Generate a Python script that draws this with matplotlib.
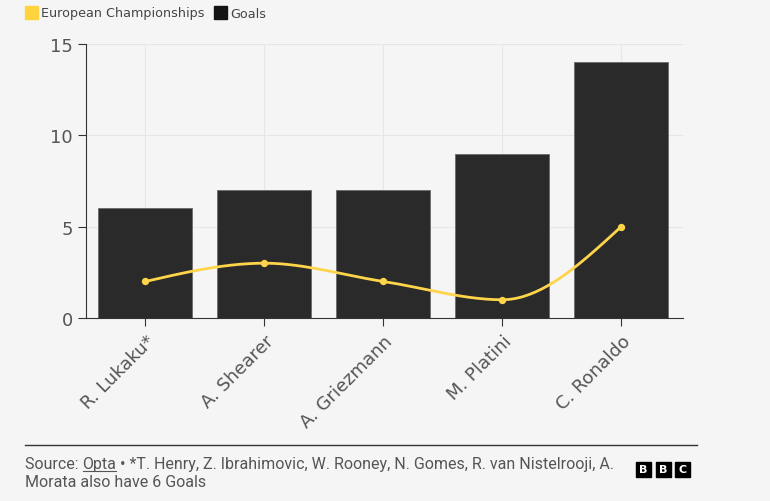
import numpy as np
import matplotlib
matplotlib.use("Agg")
import matplotlib.pyplot as plt
from matplotlib.patches import Rectangle

# data
players = ["R. Lukaku*", "A. Shearer", "A. Griezmann", "M. Platini", "C. Ronaldo"]
goals = [6, 7, 7, 9, 14]
championships = [2, 3, 2, 1, 5]
y_ticks = [0, 5, 10, 15]

BG = "#f5f5f5"
BAR = "#2a2a2a"
LINE = "#fdd44a"
TXT = "#555555"


def monotone_curve(x, y, n=40):
    # monotone cubic (Fritsch-Carlson), like d3 curveMonotoneX
    x = np.asarray(x, float)
    y = np.asarray(y, float)
    h = np.diff(x)
    d = np.diff(y) / h
    m = np.zeros_like(y)
    for i in range(1, len(y) - 1):
        if d[i - 1] * d[i] <= 0:
            m[i] = 0
        else:
            w1 = 2 * h[i] + h[i - 1]
            w2 = h[i] + 2 * h[i - 1]
            m[i] = (w1 + w2) / (w1 / d[i - 1] + w2 / d[i])
    m[0] = (3 * d[0] - m[1]) / 2
    m[-1] = (3 * d[-1] - m[-2]) / 2
    xs, ys = [], []
    for i in range(len(h)):
        t = np.linspace(0, 1, n)
        h00 = 2 * t**3 - 3 * t**2 + 1
        h10 = t**3 - 2 * t**2 + t
        h01 = -2 * t**3 + 3 * t**2
        h11 = t**3 - t**2
        xs.append(x[i] + t * h[i])
        ys.append(h00 * y[i] + h10 * h[i] * m[i] + h01 * y[i + 1] + h11 * h[i] * m[i + 1])
    return np.concatenate(xs), np.concatenate(ys)


fig = plt.figure(figsize=(7.7, 5.02), dpi=100, facecolor=BG)
ax = fig.add_axes([86 / 770, 1 - 319 / 502, (683 - 86) / 770, (319 - 45) / 502])
ax.set_facecolor(BG)

x = np.arange(len(players))
ax.bar(x, goals, width=0.79, color=BAR, edgecolor="#6a6a6a", linewidth=0.6, zorder=2)
cx, cy = monotone_curve(x, championships)
ax.plot(cx, cy, color=LINE, lw=2, zorder=3, solid_capstyle="round")
ax.scatter(x, championships, s=28, color=LINE, zorder=4, linewidths=0)

ax.set_xlim(-0.5, 4.52)
ax.set_ylim(0, 15)
ax.set_yticks(y_ticks)
ax.set_xticks(x)
ax.set_xticklabels(players, rotation=45, ha="right", rotation_mode="anchor")
ax.grid(True, color="#e6e6e6", lw=0.8, zorder=0)
for s in ["top", "right"]:
    ax.spines[s].set_visible(False)
ax.spines["left"].set_color("#333333")
ax.spines["bottom"].set_color("#333333")
ax.tick_params(axis="both", colors="#333333", length=6, width=0.8, labelsize=13,
               labelcolor=TXT)
ax.tick_params(axis="x", pad=4)

# legend at top
fig.patches.append(Rectangle((25 / 770, 1 - 20 / 502), 13 / 770, 13 / 502,
                             transform=fig.transFigure, color="#ffd33d"))
fig.text(41 / 770, 1 - 14 / 502, "European Championships", fontsize=9.2, color="#444444",
         va="center")
fig.patches.append(Rectangle((214 / 770, 1 - 20 / 502), 13 / 770, 13 / 502,
                             transform=fig.transFigure, color="#141414"))
fig.text(230 / 770, 1 - 14 / 502, "Goals", fontsize=9.2, color="#444444", va="center")

# footer
fig.add_artist(plt.Line2D([25 / 770, 697 / 770], [1 - 446 / 502, 1 - 446 / 502],
                          color="#333333", lw=1, transform=fig.transFigure))
foot = ["Roboto", "DejaVu Sans"]
fsz = 11.5
renderer = fig.canvas.get_renderer()
y1 = 1 - 465 / 502
t0 = fig.text(25 / 770, y1, "Source: ", fontsize=fsz, color=TXT, va="center", family=foot)
bb0 = t0.get_window_extent(renderer)
t1 = fig.text(bb0.x1 / 770, y1, "Opta", fontsize=fsz, color=TXT, va="center", family=foot)
bb1 = t1.get_window_extent(renderer)
fig.text(bb1.x1 / 770, y1,
         " \u2022 *T. Henry, Z. Ibrahimovic, W. Rooney, N. Gomes, R. van Nistelrooji, A.",
         fontsize=fsz, color=TXT, va="center", family=foot)
fig.add_artist(plt.Line2D([bb1.x0 / 770, bb1.x1 / 770], [bb1.y0 / 502 + 1 / 502] * 2,
                          color=TXT, lw=0.8, transform=fig.transFigure))
fig.text(25 / 770, 1 - 483 / 502, "Morata also have 6 Goals",
         fontsize=fsz, color=TXT, va="center", family=foot)

# BBC blocks
for i, letter in enumerate("BBC"):
    x0 = 636 + i * 19.5
    fig.patches.append(Rectangle((x0 / 770, 1 - 478 / 502), 15 / 770, 15 / 502,
                                 transform=fig.transFigure, color="black"))
    fig.text((x0 + 7.5) / 770, 1 - 470.5 / 502, letter, color="white", fontsize=8,
             fontweight="bold", ha="center", va="center")

fig.savefig("out.png", dpi=100, facecolor=BG)
